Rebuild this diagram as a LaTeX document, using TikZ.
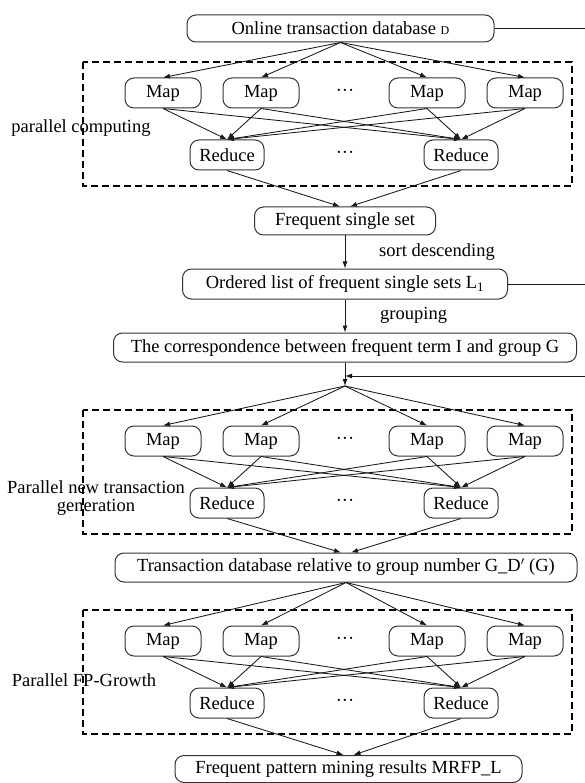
\documentclass[tikz,border=0pt]{standalone}
\usepackage{fontspec}
\setmainfont{Liberation Serif}
\usetikzlibrary{arrows.meta,calc}
\newcommand{\mrblock}[3]{%
  \draw[grp] (83,#1) rectangle (572,#1+124);
  \node[mapbox] (#2m1) at (163,#1+31) {Map};
  \node[mapbox] (#2m2) at (261,#1+31) {Map};
  \node[dotsbox] (#2md) at (345,#1+31) {···};
  \node[mapbox] (#2m3) at (427,#1+31) {Map};
  \node[mapbox] (#2m4) at (525,#1+31) {Map};
  \node[redbox] (#2r1) at (227,#1+93) {Reduce};
  \node[dotsbox] (#2rd) at (345,#1+93) {···};
  \node[redbox] (#2r2) at (461,#1+93) {Reduce};
  \foreach \i in {1,...,4} {\draw[conn] (#3) -- (#2m\i.north);}
  \foreach \i in {1,...,4} {\foreach \j in {1,2} {\draw[conn] (#2m\i.south) -- (#2r\j.north);}}
}
\begin{document}
\begin{tikzpicture}[x=1pt,y=-1pt,
  box/.style={draw=black!80,line width=1pt,rounded corners=9pt,inner sep=0pt,font=\fontsize{18.5}{20}\selectfont},
  mapbox/.style={box,minimum width=76pt,minimum height=30pt},
  redbox/.style={box,minimum width=74pt,minimum height=30pt},
  conn/.style={line width=0.85pt,draw=black!90,-{Latex[length=7pt,width=5pt]}},
  plainline/.style={line width=1pt,draw=black!90},
  grp/.style={draw=black,dash pattern=on 7pt off 4pt,line width=1.1pt},
  lbl/.style={font=\fontsize{18.5}{18}\selectfont,inner sep=0pt,align=center},
  dotsbox/.style={font=\fontsize{18.5}{20}\selectfont,inner sep=0pt}]
\useasboundingbox (0,0) rectangle (585,783);

% main nodes
\node[box,minimum width=307pt,minimum height=27pt] (db) at (340.5,28.5)
  {Online transaction database {\fontsize{12}{12}\selectfont D}};
\node[box,minimum width=181pt,minimum height=28pt] (fs) at (345,221) {Frequent single set};
\node[box,minimum width=325pt,minimum height=30pt] (ol) at (345,284)
  {Ordered list of frequent single sets L\textsubscript{1}};
\node[box,minimum width=463pt,minimum height=29pt] (corr) at (345,347.5)
  {The correspondence between frequent term I and group G};
\node[box,minimum width=462pt,minimum height=29pt] (tdb) at (346,567.5)
  {Transaction database relative to group number G\_D$^{\prime}$ (G)};
\node[box,minimum width=347pt,minimum height=27pt] (res) at (348.5,769)
  {Frequent pattern mining results MRFP\_L};

% helper coordinates
\coordinate (e1) at (585,28.5);
\coordinate (e2) at (585,284);
\coordinate (e3) at (585,376);
\coordinate (j) at (345,376);
\coordinate (fan2) at (345,386);

% blocks
\mrblock{62}{A}{db.south}
\mrblock{410}{B}{fan2}
\mrblock{610}{C}{tdb.south}

% block labels
\node[lbl] (lab1) at (81,128) {parallel computing};
\node[lbl] (lab2) at (96,498) {Parallel new transaction\\generation};
\node[lbl] (lab3) at (84,680) {Parallel FP-Growth};

% reduce outputs
\draw[conn] (Ar1.south) -- ($(fs.north)+(-5,0)$);
\draw[conn] (Ar2.south) -- ($(fs.north)+(5,0)$);
\draw[conn] (Br1.south) -- ($(tdb.north)+(-5,0)$);
\draw[conn] (Br2.south) -- ($(tdb.north)+(5,0)$);
\draw[conn] (Cr1.south) -- ($(res.north)+(-5,0)$);
\draw[conn] (Cr2.south) -- ($(res.north)+(5,0)$);

% vertical flow
\draw[conn] (fs.south) -- (ol.north);
\draw[conn] (ol.south) -- (corr.north);
\draw[conn] (corr.south) -- (fan2);
\node[lbl,anchor=west] (sd) at (379,252) {sort descending};
\node[lbl,anchor=west] (gp) at (380,315) {grouping};

% right side links
\draw[plainline] (db.east) -- (e1);
\draw[plainline] (ol.east) -- (e2);
\draw[conn,line width=1pt] (e3) -- (j);
\end{tikzpicture}
\end{document}
